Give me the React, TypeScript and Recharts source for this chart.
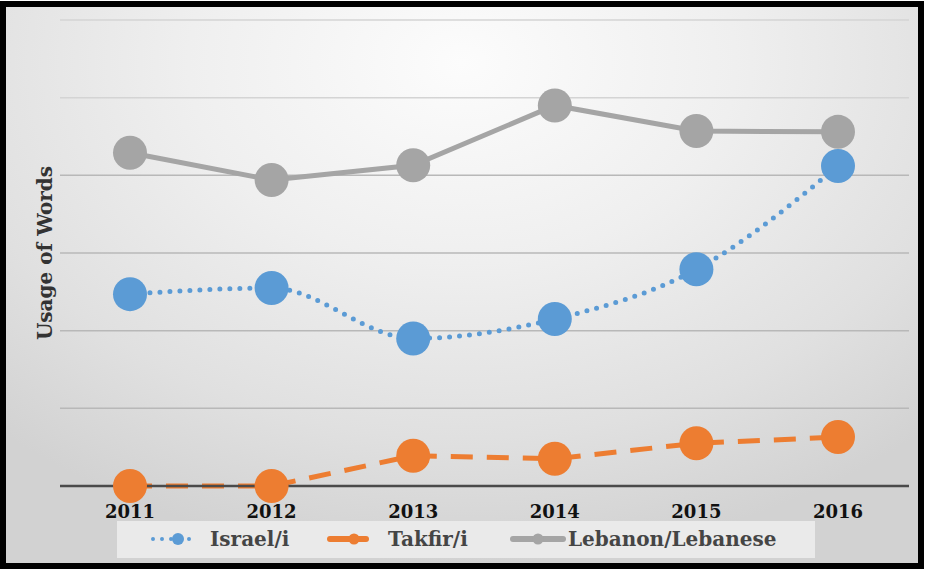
import { LineChart, Line, XAxis, YAxis, ReferenceLine, Label } from 'recharts';

const years = ['2011', '2012', '2013', '2014', '2015', '2016'];
const israel = [24.7, 25.5, 19.0, 21.5, 27.9, 41.2];
const takfir = [0, 0, 3.9, 3.5, 5.5, 6.3];
const lebanon = [42.9, 39.4, 41.3, 49.0, 45.7, 45.6];
const yTicks = [0, 10, 20, 30, 40, 50, 60];

const SERIES = [
  { key: 'israel', label: 'Israel/i', color: '#5b9bd5', iconX: 33, textX: 93 },
  { key: 'takfir', label: 'Takfir/i', color: '#ed7d31', iconX: 210, textX: 271 },
  { key: 'lebanon', label: 'Lebanon/Lebanese', color: '#a5a5a5', iconX: 393, textX: 451 },
];

const data = years.map((y, i) => ({ year: y, israel: israel[i], takfir: takfir[i], lebanon: lebanon[i] }));

const FONT = '"DejaVu Serif", "Liberation Serif", serif';

function LegendIcon({ k, color }: { k: string; color: string }) {
  if (k === 'israel') {
    return (
      <svg width="50" height="20" style={{ display: 'block' }}>
        <line x1="3" y1="10" x2="48" y2="10" stroke={color} strokeWidth={4} strokeDasharray="0 9" strokeLinecap="round" />
        <circle cx="28" cy="10" r="6" fill={color} />
      </svg>
    );
  }
  const w = k === 'lebanon' ? 56 : 42;
  return (
    <svg width={w} height="20" style={{ display: 'block' }}>
      <line x1="3" y1="10" x2={w - 3} y2="10" stroke={color} strokeWidth={6} strokeLinecap="round" />
      <circle cx={k === 'lebanon' ? 28 : 27} cy="10" r="5.5" fill={color} />
    </svg>
  );
}

function ChartLegend() {
  return (
    <div
      style={{
        position: 'absolute',
        left: 117,
        top: 521,
        width: 698,
        height: 37,
        background: 'rgba(236,236,236,0.9)',
        fontFamily: FONT,
        fontWeight: 'bold',
        fontSize: 20,
        color: '#454545',
      }}
    >
      {SERIES.map(s => (
        <div key={s.key}>
          <div style={{ position: 'absolute', left: s.iconX, top: 8 }}>
            <LegendIcon k={s.key} color={s.color} />
          </div>
          <div style={{ position: 'absolute', left: s.textX, top: 4, lineHeight: '28px', whiteSpace: 'nowrap' }}>{s.label}</div>
        </div>
      ))}
    </div>
  );
}

export default function App() {
  return (
    <div style={{ position: 'absolute', left: 0, top: 0, width: 925, height: 572 }}>
      <div
        style={{
          position: 'absolute',
          left: 0,
          top: 1,
          width: 912,
          height: 556,
          border: '6px solid #000',
          background: 'radial-gradient(ellipse 75% 90% at 50% 10%, #fcfcfc 0%, #efefef 40%, #e0e0e0 75%, #d2d2d2 100%)',
        }}
      />
      <div style={{ position: 'absolute', left: 0, top: 0 }}>
        <LineChart width={925} height={572} data={data} margin={{ top: 20, right: 16, left: 0, bottom: 56 }}>
          <XAxis
            dataKey="year"
            padding={{ left: 70, right: 71 }}
            axisLine={{ stroke: '#4a4a4a', strokeWidth: 2.5 }}
            tickLine={false}
            tickSize={0}
            tickMargin={19}
            height={30}
            tick={{ fontFamily: FONT, fontWeight: 'bold', fontSize: 18, fill: '#111' }}
          />
          <YAxis
            domain={[0, 60]}
            ticks={yTicks}
            width={60}
            axisLine={false}
            tickLine={false}
            tick={false}
          >
            <Label
              value="Usage of Words"
              angle={-90}
              position="insideLeft"
              offset={45}
              style={{ fontFamily: FONT, fontWeight: 'bold', fontSize: 20, fill: '#333', textAnchor: 'middle' }}
            />
          </YAxis>
          {yTicks.filter(v => v > 0).map(v => (
            <ReferenceLine key={v} y={v} stroke={v >= 50 ? '#d4d4d4' : '#b8b8b8'} strokeWidth={1.5} ifOverflow="extendDomain" />
          ))}
          <Line
            dataKey="israel"
            name="Israel/i"
            type="monotone"
            stroke="#5b9bd5"
            strokeWidth={5}
            strokeDasharray="0 10"
            strokeLinecap="round"
            dot={{ r: 17, fill: '#5b9bd5', stroke: 'none', strokeDasharray: '' }}
            isAnimationActive={false}
          />
          <Line
            dataKey="takfir"
            name="Takfir/i"
            type="linear"
            stroke="#ed7d31"
            strokeWidth={5}
            strokeDasharray="22 14"
            dot={{ r: 17, fill: '#ed7d31', stroke: 'none', strokeDasharray: '' }}
            isAnimationActive={false}
          />
          <Line
            dataKey="lebanon"
            name="Lebanon/Lebanese"
            type="linear"
            stroke="#a5a5a5"
            strokeWidth={5}
            dot={{ r: 17, fill: '#a5a5a5', stroke: 'none' }}
            isAnimationActive={false}
          />
        </LineChart>
      </div>
      <ChartLegend />
    </div>
  );
}
